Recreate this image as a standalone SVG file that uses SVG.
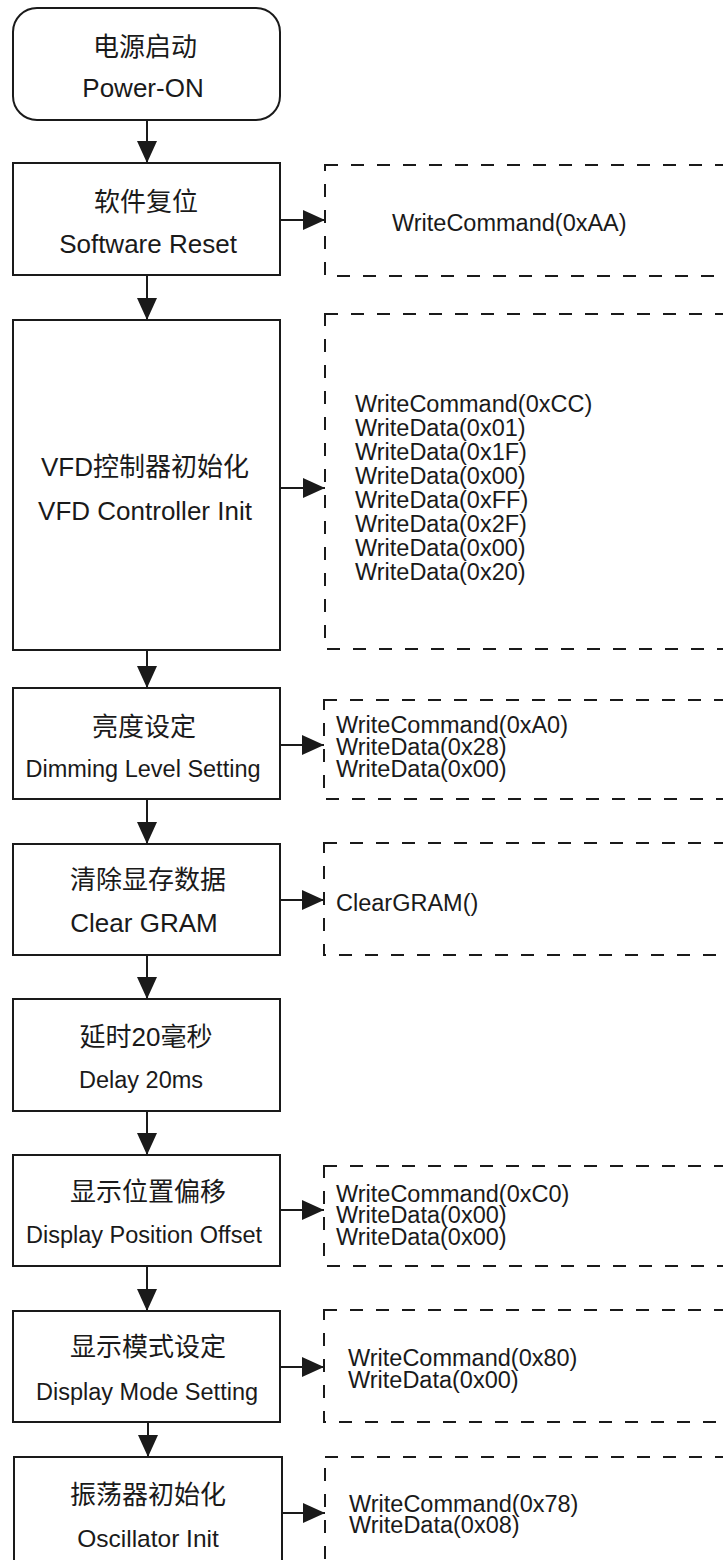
<svg xmlns="http://www.w3.org/2000/svg" width="723" height="1560" viewBox="0 0 723 1560">
<style>
.box{fill:#fff;stroke:#1a1a1a;stroke-width:2}
.dash{fill:none;stroke:#1a1a1a;stroke-width:2;stroke-dasharray:13 13}
.cn{font-family:"Liberation Sans","Noto Sans CJK SC",sans-serif;font-size:26px;fill:#1a1a1a;text-anchor:middle}
.en{font-family:"Liberation Sans",Arial,sans-serif;font-size:26px;fill:#1a1a1a;text-anchor:middle}
.ens{font-size:23.5px}
.code{font-family:"Liberation Sans",Arial,sans-serif;font-size:23.5px;fill:#1a1a1a}
.conn line{stroke:#1a1a1a;stroke-width:2;marker-end:url(#arr)}
</style>
<defs>
<marker id="arr" markerUnits="userSpaceOnUse" markerWidth="22" markerHeight="20" refX="22" refY="10" orient="auto">
<path d="M0,0 L22,10 L0,20 Z" fill="#1a1a1a"/>
</marker>
</defs>
<rect width="723" height="1560" fill="#fff"/>

<g id="connectors" class="conn">
<line x1="147" y1="120" x2="147" y2="163"/>
<line x1="147" y1="275" x2="147" y2="320"/>
<line x1="147" y1="650" x2="147" y2="688"/>
<line x1="147" y1="799" x2="147" y2="844"/>
<line x1="147" y1="955" x2="147" y2="999"/>
<line x1="147" y1="1111" x2="147" y2="1155"/>
<line x1="147" y1="1266" x2="147" y2="1311"/>
<line x1="148" y1="1422" x2="148" y2="1457"/>
<line x1="280" y1="220" x2="325" y2="220"/>
<line x1="280" y1="488" x2="325" y2="488"/>
<line x1="280" y1="745" x2="324" y2="745"/>
<line x1="280" y1="900" x2="324" y2="900"/>
<line x1="280" y1="1210" x2="324" y2="1210"/>
<line x1="280" y1="1367" x2="324" y2="1367"/>
<line x1="282" y1="1513" x2="325" y2="1513"/>
</g>

<g id="power-on">
<rect class="box" x="13" y="8" width="267" height="112" rx="24" ry="24"/>
<text class="cn" x="145" y="56">电源启动</text>
<text class="en" x="143" y="97">Power-ON</text>
</g>

<g id="software-reset">
<rect class="box" x="13" y="163" width="267" height="112"/>
<text class="cn" x="146" y="211">软件复位</text>
<text class="en" x="148" y="253">Software Reset</text>
</g>
<g id="software-reset-cmd">
<rect class="dash" x="325" y="165" width="399" height="111"/>
<text class="code" x="392" y="231">WriteCommand(0xAA)</text>
</g>

<g id="vfd-init">
<rect class="box" x="13" y="320" width="267" height="330"/>
<text class="cn" x="145" y="476">VFD控制器初始化</text>
<text class="en" x="145" y="520">VFD Controller Init</text>
</g>
<g id="vfd-init-cmd">
<rect class="dash" x="325" y="314" width="399" height="335"/>
<text class="code" x="355" y="412">WriteCommand(0xCC)</text>
<text class="code" x="355" y="436">WriteData(0x01)</text>
<text class="code" x="355" y="460">WriteData(0x1F)</text>
<text class="code" x="355" y="484">WriteData(0x00)</text>
<text class="code" x="355" y="508">WriteData(0xFF)</text>
<text class="code" x="355" y="532">WriteData(0x2F)</text>
<text class="code" x="355" y="556">WriteData(0x00)</text>
<text class="code" x="355" y="580">WriteData(0x20)</text>
</g>

<g id="dimming">
<rect class="box" x="13" y="688" width="267" height="111"/>
<text class="cn" x="144" y="736">亮度设定</text>
<text class="en ens" x="143" y="777">Dimming Level Setting</text>
</g>
<g id="dimming-cmd">
<rect class="dash" x="324" y="700" width="400" height="99"/>
<text class="code" x="336" y="733">WriteCommand(0xA0)</text>
<text class="code" x="336" y="755">WriteData(0x28)</text>
<text class="code" x="336" y="777">WriteData(0x00)</text>
</g>

<g id="clear-gram">
<rect class="box" x="13" y="844" width="267" height="111"/>
<text class="cn" x="148" y="889">清除显存数据</text>
<text class="en" x="144" y="932">Clear GRAM</text>
</g>
<g id="clear-gram-cmd">
<rect class="dash" x="324" y="843" width="400" height="112"/>
<text class="code" x="336" y="911">ClearGRAM()</text>
</g>

<g id="delay">
<rect class="box" x="13" y="999" width="267" height="112"/>
<text class="cn" x="146" y="1046">延时20毫秒</text>
<text class="en ens" x="141" y="1088">Delay 20ms</text>
</g>

<g id="position-offset">
<rect class="box" x="13" y="1155" width="267" height="111"/>
<text class="cn" x="148" y="1201">显示位置偏移</text>
<text class="en ens" x="144" y="1243">Display Position Offset</text>
</g>
<g id="position-offset-cmd">
<rect class="dash" x="324" y="1166" width="400" height="100"/>
<text class="code" x="336" y="1202">WriteCommand(0xC0)</text>
<text class="code" x="336" y="1223">WriteData(0x00)</text>
<text class="code" x="336" y="1245">WriteData(0x00)</text>
</g>

<g id="display-mode">
<rect class="box" x="13" y="1311" width="267" height="111"/>
<text class="cn" x="148" y="1356">显示模式设定</text>
<text class="en ens" x="147" y="1400">Display Mode Setting</text>
</g>
<g id="display-mode-cmd">
<rect class="dash" x="324" y="1310" width="400" height="112"/>
<text class="code" x="348" y="1366">WriteCommand(0x80)</text>
<text class="code" x="348" y="1388">WriteData(0x00)</text>
</g>

<g id="oscillator">
<rect class="box" x="14" y="1457" width="268" height="120"/>
<text class="cn" x="148" y="1504">振荡器初始化</text>
<text class="en" x="148" y="1547" style="font-size:24.5px">Oscillator Init</text>
</g>
<g id="oscillator-cmd">
<rect class="dash" x="325" y="1457" width="399" height="120"/>
<text class="code" x="349" y="1512">WriteCommand(0x78)</text>
<text class="code" x="349" y="1533">WriteData(0x08)</text>
</g>
</svg>
